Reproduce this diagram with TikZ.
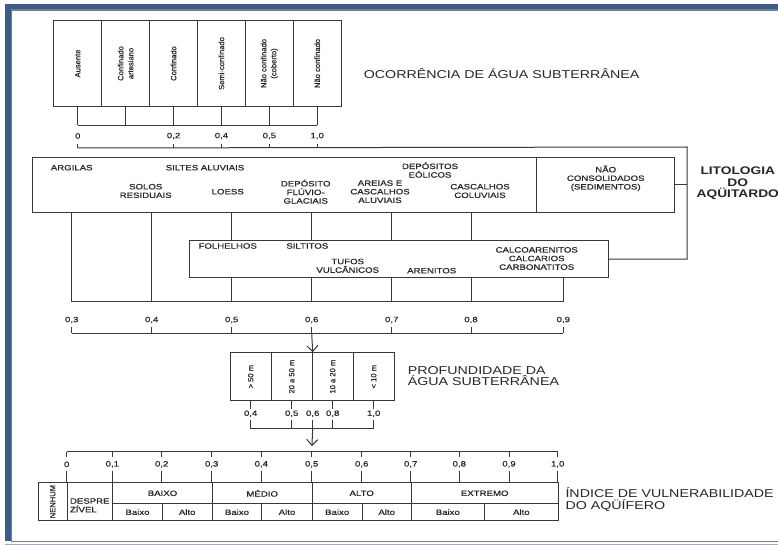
\documentclass[tikz,border=0pt]{standalone}
\usepackage{fontspec}
\setmainfont{Liberation Sans}
\newfontfamily\widesf[FakeStretch=1.25]{Liberation Sans}
\newfontfamily\widesfb[FakeStretch=1.25,FakeBold=0.6]{Liberation Sans}
\newfontfamily\tallsf[FakeBold=0.5]{Liberation Sans}
\usetikzlibrary{arrows.meta}
\definecolor{frameblue}{RGB}{58,94,140}
\definecolor{framegray}{RGB}{125,125,125}
\definecolor{framelight}{RGB}{150,175,215}

\begin{document}
\begin{tikzpicture}[x=1pt,y=-1pt,line width=1pt,draw=black!78,text=black!85,
    lbl/.style={font=\widesfb\fontsize{7.7}{8.6}\selectfont,align=center,inner sep=0pt},
    vlbl/.style={font=\tallsf\fontsize{7.6}{10}\selectfont,align=center,inner sep=0pt,rotate=90},
    ttl/.style={font=\widesf\fontsize{11.4}{11.4}\selectfont,align=left,anchor=west,inner sep=0pt},
    cell/.style={draw,anchor=north west,inner sep=0pt,minimum width=#1pt},
    flow/.style={-{Straight Barb[length=6pt,width=11pt]}}]
    \useasboundingbox (0,0) rectangle (778,545);

    \fill[frameblue] (5,4) rectangle (778,9.3);
    \fill[frameblue] (5,4) rectangle (11,540.5);
    \draw[framegray,line width=1.2pt] (11,10) -- (778,10);
    \draw[framegray,line width=1pt] (11.6,10) -- (11.6,541);
    \draw[framegray,line width=1.2pt] (11,541.5) -- (778,541.5);
    \draw[framelight,line width=1pt] (5,544.5) -- (778,544.5);

    \foreach \t [count=\i] in {Ausente,{Confinado\\artesiano},Confinado,Semi-confinado,{Não confinado\\(coberto)},Não confinado} {
        \node[cell=47.9,minimum height=86pt] (occ\i) at ({53.3+47.9*(\i-1)},20) {};
        \node[vlbl] (occt\i) at (occ\i) {\t};
        \path (occ\i.south) ++(0,18.3) coordinate (occb\i);
        \draw (occ\i.south) -- (occb\i);
    }
    \draw (occb1) -- (occb6);
    \foreach \i/\v in {1/0,3/{0,2},4/{0,4},5/{0,5},6/{1,0}} {
        \path (occ\i.south) ++(0,29) node[lbl] (occv\i) {\v};
        \path (occv\i) ++(0,8) coordinate (sa\i);
        \path (occv\i) ++(0,12) coordinate (sb\i);
        \draw (sa\i) -- (sb\i);
    }
    \node[ttl] (occtitle) at (363.3,73.3) {OCORRÊNCIA DE ÁGUA SUBTERRÂNEA};

    \node[cell=641.7,minimum height=54.4pt] (uplit) at (32.3,157.3) {};
    \draw (536.7,157.3) -- (536.7,211.7);
    \node[cell=418.4,minimum height=37.3pt] (lowlit) at (189.3,240) {};
    \coordinate (rail) at (687,147);
    \draw (sb1) -- (rail) |- (lowlit.east);
    \draw (uplit.east) -- (uplit.east -| rail);
    \node[ttl,anchor=center,align=center,font=\widesf\bfseries\fontsize{11}{11.4}\selectfont] (littitle) at (737.8,183.5) {LITOLOGIA\\DO\\AQÜITARDO};

    \node[lbl] (argilas) at (71.7,167.7) {ARGILAS};
    \node[lbl] (siltes) at (205,167.7) {SILTES ALUVIAIS};
    \node[lbl] (solos) at (145.7,191) {SOLOS\\RESIDUAIS};
    \node[lbl] (loess) at (227.7,191.7) {LOESS};
    \node[lbl] (fluvio) at (305.7,191.7) {DEPÓSITO\\FLÚVIO-\\GLACIAIS};
    \node[lbl] (areias) at (380,191.7) {AREIAS E\\CASCALHOS\\ALUVIAIS};
    \node[lbl] (eolicos) at (430,170) {DEPÓSITOS\\EÓLICOS};
    \node[lbl] (coluviais) at (480,191) {CASCALHOS\\COLUVIAIS};
    \node[lbl] (naocons) at (605.7,178.3) {NÃO\\CONSOLIDADOS\\(SEDIMENTOS)};
    \node[lbl] (folhelhos) at (227.7,246) {FOLHELHOS};
    \node[lbl] (siltitos) at (307.3,246) {SILTITOS};
    \node[lbl] (tufos) at (347.7,265.8) {TUFOS\\VULCÂNICOS};
    \node[lbl] (arenitos) at (431.7,270.7) {ARENITOS};
    \node[lbl] (calco) at (536.7,258.5) {CALCOARENITOS\\CALCARIOS\\CARBONATITOS};

    \foreach \x/\v [count=\i] in {71.7/{0,3},151.7/{0,4},231.7/{0,5},311.7/{0,6},391.7/{0,7},471/{0,8},563.3/{0,9}} {
        \coordinate (lb\i) at (\x,301.7);
        \node[lbl] (litv\i) at (\x,320) {\v};
        \coordinate (lt\i) at (\x,326.7);
        \coordinate (ls\i) at (\x,333.3);
        \draw (lt\i) -- (ls\i);
    }
    \foreach \i in {1,2} \draw (lb\i |- uplit.south) -- (lb\i);
    \foreach \i in {3,...,6} {
        \draw (lb\i |- uplit.south) -- (lb\i |- lowlit.north);
        \draw (lb\i |- lowlit.south) -- (lb\i);
    }
    \draw (lb7 |- lowlit.south) -- (lb7);
    \draw (lb1) -- (lb7);
    \draw (ls1) -- (ls7);

    \foreach \t [count=\i] in {{> 50 m},{20 a 50 m},{10 a 20 m},{< 10 m}} {
        \node[cell=41,minimum height=47.7pt] (dep\i) at ({229.7+41*(\i-1)},352.3) {};
        \node[vlbl] (dept\i) at (dep\i) {\t};
    }
    \draw[flow] (ls4) -- (dep2.north east);
    \node[ttl,font=\widesf\fontsize{11.4}{11}\selectfont] (deptitle) at (407.3,376) {PROFUNDIDADE DA\\ÁGUA SUBTERRÂNEA};

    \foreach \p/\v [count=\i] in {dep1/{0,4},dep2/{0,5},dep3/{0,8},dep4/{1,0}} {
        \path (\p.south) ++(0,7.7) coordinate (dq\i);
        \draw (\p.south) -- (dq\i);
        \path (\p.south) ++(0,12.7) node[lbl] (depv\i) {\v};
        \path (\p.south) ++(0,19.3) coordinate (dr\i);
        \path (\p.south) ++(0,27.7) coordinate (ds\i);
        \draw (dr\i) -- (ds\i);
    }
    \path (dep2.south east) ++(0,12.7) node[lbl] (depv0) {0,6};
    \path (dep2.south east) ++(0,19.3) coordinate (dr0);
    \path (dep2.south east) ++(0,27.7) coordinate (ds0);
    \draw (dr0) -- (ds0);
    \draw (ds1) -- (ds4);

    \foreach \x/\v [count=\i from 0] in {66.7/0,112.3/{0,1},161.7/{0,2},211.7/{0,3},261.3/{0,4},311.7/{0,5},361.7/{0,6},410.7/{0,7},459.3/{0,8},509/{0,9},557.7/{1,0}} {
        \coordinate (ia\i) at (\x,451.7);
        \coordinate (ib\i) at (\x,456.7);
        \node[lbl] (indv\i) at (\x,464.3) {\v};
        \coordinate (ic\i) at (\x,470.5);
        \coordinate (id\i) at (\x,482.3);
        \draw (ia\i) -- (ib\i);
        \draw (ic\i) -- (id\i);
    }
    \draw (ia0) -- (ia10);
    \draw[flow,shorten >=5.5pt] (ds0) -- (ia5);

    \node[cell=29,minimum height=37.7pt] (nenhum) at (37.7,482.3) {};
    \node[vlbl] (nenhumt) at (nenhum) {NENHUM};
    \node[cell=45.6,minimum height=37.7pt] (desp) at (66.7,482.3) {};
    \node[lbl,align=left,anchor=west] (despt) at (69.5,505.3) {DESPRE\\ZÍVEL};
    \foreach \a/\b/\t [count=\i] in {112.3/211.7/BAIXO,211.7/311.7/MÉDIO,311.7/410.7/ALTO,410.7/557.7/EXTREMO} {
        \pgfmathsetmacro\w{\b-\a}
        \node[cell=\w,minimum height=21pt] (lvl\i) at (\a,482.3) {};
        \node[lbl] (lvlt\i) at (lvl\i) {\t};
    }
    \foreach \a/\b/\t [count=\i] in {112.3/161.7/Baixo,161.7/211.7/Alto,211.7/261.3/Baixo,261.3/311.7/Alto,311.7/361.7/Baixo,361.7/410.7/Alto,410.7/484/Baixo,484/557.7/Alto} {
        \pgfmathsetmacro\w{\b-\a}
        \node[cell=\w,minimum height=16.7pt] (sub\i) at (\a,503.3) {};
        \node[lbl] (subt\i) at (sub\i) {\t};
    }
    \node[ttl,font=\widesf\fontsize{11.4}{12.7}\selectfont] (indtitle) at (565,499.7) {ÍNDICE DE VULNERABILIDADE\\DO AQÜÍFERO};
\end{tikzpicture}
\end{document}
